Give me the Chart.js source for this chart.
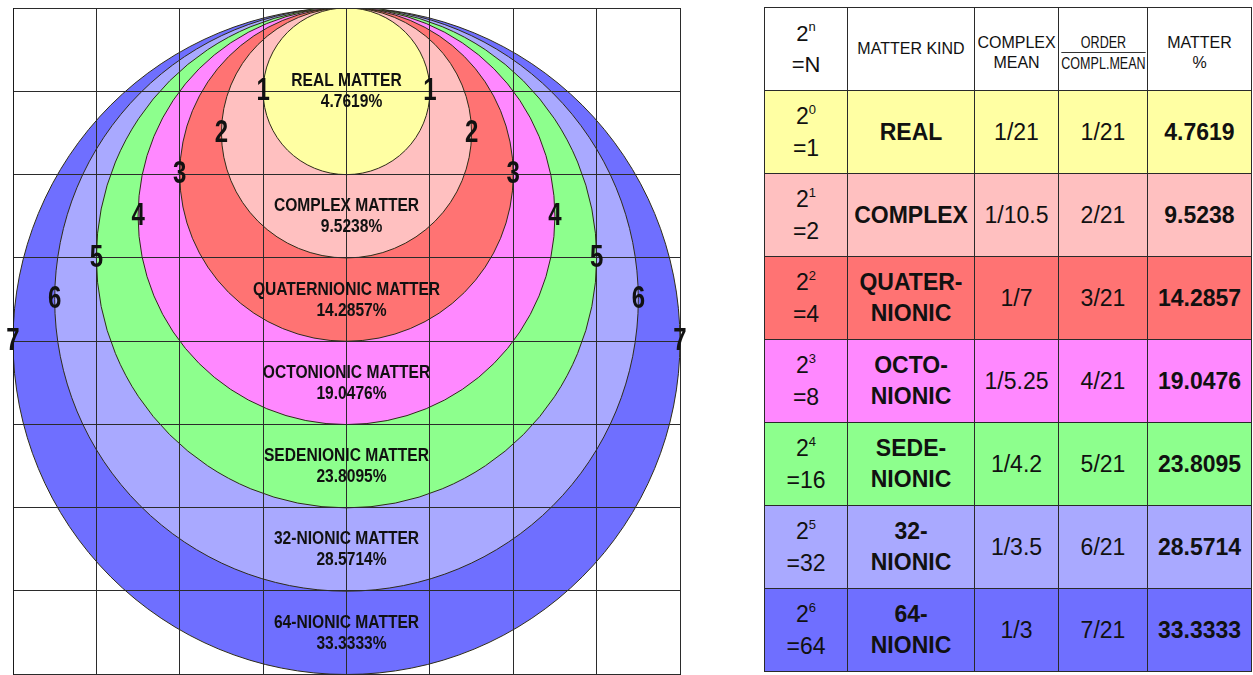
<!DOCTYPE html>
<html>
<head>
<meta charset="utf-8">
<script src="https://cdn.jsdelivr.net/npm/chart.js@4.4.0/dist/chart.umd.min.js"></script>
<style>
  body { margin: 0; background: #fff; width: 1253px; height: 675px; overflow: hidden;
         font-family: "Liberation Sans", Arial, sans-serif; color: #111; }
  #wrap { position: absolute; left: 0; top: 0; width: 700px; height: 675px; }
  #tbl { position: absolute; left: 764px; top: 7px; width: 487px; border-collapse: collapse; table-layout: fixed; }
  #tbl td { border: 1.5px solid #2a2a2a; text-align: center; vertical-align: middle; padding: 0; height: 82px; }
  #tbl tr.head td { font-size: 16px; line-height: 20px; background: #fff; }
  #tbl tr.head td.two { padding-top: 8px; height: 74px; }
  .pow { font-size: 23px; line-height: 28px; }
  .pow sup { font-size: 13px; vertical-align: 0; position: relative; top: -10px; }
  .kind { font-weight: bold; font-size: 23px; line-height: 31px; }
  .val { font-size: 23px; }
  .pct { font-weight: bold; font-size: 23px; }
  .frac { display: inline-block; margin: 0 -16px; transform: scaleX(0.76); line-height: 19px; font-size: 16.5px; }
  .frac span { display: block; }
  .frac .d { border-top: 1px solid #333; padding-top: 1px; }
</style>
</head>
<body>
<div id="wrap"><canvas id="rings"></canvas></div>
<table id="tbl">
  <colgroup><col style="width:83px"><col style="width:127px"><col style="width:84px"><col style="width:89px"><col style="width:104px"></colgroup>
  <tbody id="tbody"></tbody>
</table>
<script>
// ring order, algebra dimension, matter share
const order = [1, 2, 3, 4, 5, 6, 7];
const powers = [0, 1, 2, 3, 4, 5, 6];
const dims = [1, 2, 4, 8, 16, 32, 64];
const kindNames = ['REAL', 'COMPLEX', 'QUATERNIONIC', 'OCTONIONIC', 'SEDENIONIC', '32-NIONIC', '64-NIONIC'];
const tableKinds = [['REAL'], ['COMPLEX'], ['QUATER-', 'NIONIC'], ['OCTO-', 'NIONIC'], ['SEDE-', 'NIONIC'], ['32-', 'NIONIC'], ['64-', 'NIONIC']];
const complexMean = ['1/21', '1/10.5', '1/7', '1/5.25', '1/4.2', '1/3.5', '1/3'];
const orderRatio = ['1/21', '2/21', '3/21', '4/21', '5/21', '6/21', '7/21'];
const matterPct = [4.7619, 9.5238, 14.2857, 19.0476, 23.8095, 28.5714, 33.3333];
const fills = ['#ffffa3', '#ffc0c0', '#ff7373', '#ff88ff', '#8dff8d', '#a9a9ff', '#6f6fff'];

// biggest ring first so the small ones sit on top
const drawIdx = order.map((_, i) => order.length - 1 - i);
const ringR = k => (k + 1) / 2;   // in grid cells, every ring touches the top edge

function narrowText(ctx, txt, x, y, font, sx) {
    ctx.save();
    ctx.translate(x, y);
    ctx.scale(sx, 1);
    ctx.font = font;
    ctx.fillText(txt, 0, 0);
    ctx.restore();
}

const ringLabels = {
    id: 'ringLabels',
    afterDraw(chart) {
        const ctx = chart.ctx;
        const x = chart.scales.x, y = chart.scales.y;
        const cx = x.getPixelForValue(4);
        ctx.fillStyle = '#111';
        ctx.textAlign = 'center';
        ctx.textBaseline = 'middle';
        order.forEach((k, i) => {
            const r = ringR(k);
            const rp = x.getPixelForValue(r) - x.getPixelForValue(0);
            const ey = y.getPixelForValue(8 - r);
            narrowText(ctx, String(k), cx - rp, ey, 'bold 32px "Liberation Sans", Arial', 0.75);
            narrowText(ctx, String(k), cx + rp, ey, 'bold 32px "Liberation Sans", Arial', 0.75);

            const top = i === 0 ? 8 : 8 - 2 * ringR(order[i - 1]);
            const bottom = 8 - 2 * r;
            const my = y.getPixelForValue((top + bottom) / 2);
            narrowText(ctx, kindNames[i] + ' MATTER', cx, my - 10, 'bold 19px "Liberation Sans", Arial', 0.82);
            narrowText(ctx, matterPct[i].toFixed(4) + '%', cx + 5, my + 11, 'bold 19px "Liberation Sans", Arial', 0.82);
        });
    }
};

new Chart(document.getElementById('rings'), {
    type: 'scatter',
    data: {
        datasets: [{
            data: drawIdx.map(i => ({ x: 4, y: 8 - ringR(order[i]) })),
            pointBackgroundColor: drawIdx.map(i => fills[i]),
            pointBorderColor: '#2e2c18',
            pointBorderWidth: 1,
            pointHoverRadius: 0,
            pointRadius: (ctx) => {
                const s = ctx.chart.scales.x;
                const v = s.getPixelForValue(ringR(order[drawIdx[ctx.dataIndex]])) - s.getPixelForValue(0);
                return isFinite(v) ? v : 0;
            }
        }]
    },
    options: {
        responsive: true,
        maintainAspectRatio: false,
        animation: false,
        events: [],
        layout: { padding: { left: 13, top: 8, right: 20, bottom: 1 } },
        plugins: { legend: { display: false }, tooltip: { enabled: false } },
        scales: {
            x: {
                type: 'linear', min: 0, max: 8,
                ticks: { display: false, stepSize: 1 },
                grid: { color: '#2b2b2b', lineWidth: 1, drawTicks: false, z: 1 },
                border: { color: '#1a1a1a', z: 1 }
            },
            y: {
                type: 'linear', min: 0, max: 8,
                ticks: { display: false, stepSize: 1 },
                grid: { color: '#2b2b2b', lineWidth: 1, drawTicks: false, z: 1 },
                border: { color: '#1a1a1a', z: 1 }
            }
        }
    },
    plugins: [ringLabels]
});

// table on the right
const tbody = document.getElementById('tbody');
let html = '<tr class="head"><td><span class="pow" style="font-size:22px">2<sup>n</sup><br>=N</span></td>' +
    '<td>MATTER KIND</td><td class="two">COMPLEX<br>MEAN</td>' +
    '<td class="two"><span class="frac"><span class="n">ORDER</span><span class="d">COMPL.MEAN</span></span></td>' +
    '<td class="two">MATTER<br>%</td></tr>';
order.forEach((k, i) => {
    html += '<tr style="background:' + fills[i] + '">' +
        '<td><span class="pow">2<sup>' + powers[i] + '</sup><br>=' + dims[i] + '</span></td>' +
        '<td><span class="kind">' + tableKinds[i].join('<br>') + '</span></td>' +
        '<td class="val">' + complexMean[i] + '</td>' +
        '<td class="val">' + orderRatio[i] + '</td>' +
        '<td class="pct">' + matterPct[i].toFixed(4) + '</td></tr>';
});
tbody.innerHTML = html;
</script>
</body>
</html>
